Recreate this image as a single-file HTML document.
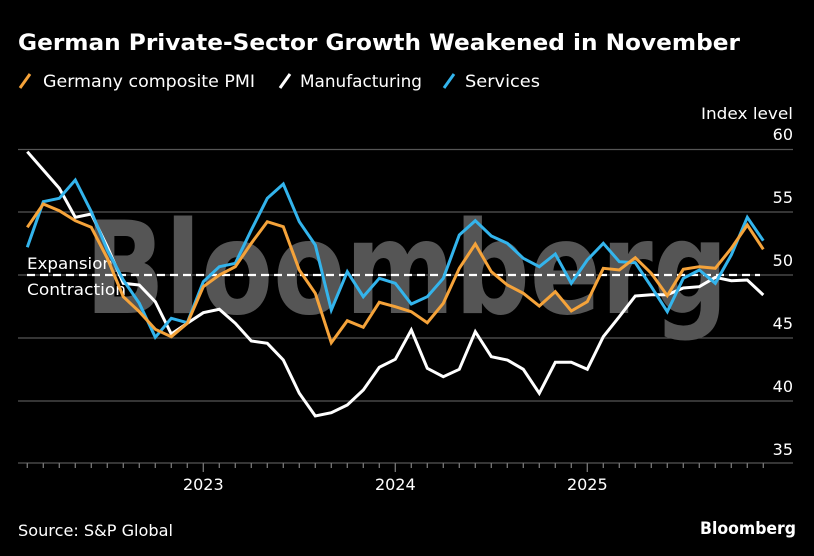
<!DOCTYPE html>
<html><head><meta charset="utf-8"><style>
html,body{margin:0;padding:0;background:#000;}
svg{display:block;font-family:"DejaVu Sans","Liberation Sans",sans-serif;}
</style></head><body>
<svg width="814" height="556" viewBox="0 0 814 556" xmlns="http://www.w3.org/2000/svg">
<rect width="814" height="556" fill="#000"/>
<text x="18" y="50" fill="#fff" font-size="22" font-weight="bold" textLength="722" lengthAdjust="spacingAndGlyphs">German Private-Sector Growth Weakened in November</text>
<g font-size="17" fill="#fff">
<line x1="20" y1="88" x2="30" y2="74" stroke="#f5a33a" stroke-width="3"/>
<text x="43" y="87" textLength="212" lengthAdjust="spacingAndGlyphs">Germany composite PMI</text>
<line x1="280" y1="88" x2="290" y2="74" stroke="#fff" stroke-width="3"/>
<text x="300" y="87" textLength="122" lengthAdjust="spacingAndGlyphs">Manufacturing</text>
<line x1="444" y1="88" x2="454" y2="74" stroke="#33b4ec" stroke-width="3"/>
<text x="465" y="87" textLength="75" lengthAdjust="spacingAndGlyphs">Services</text>
</g>
<text x="793" y="119" fill="#fff" font-size="16" text-anchor="end" textLength="92" lengthAdjust="spacingAndGlyphs">Index level</text>
<g stroke="#555" stroke-width="1.3">
<line x1="18" y1="149.5" x2="793" y2="149.5"/>
<line x1="18" y1="212" x2="793" y2="212"/>
<line x1="18" y1="275" x2="793" y2="275"/>
<line x1="18" y1="338" x2="793" y2="338"/>
<line x1="18" y1="401" x2="793" y2="401"/>
<line x1="18" y1="463" x2="793" y2="463"/>
</g>
<g fill="#fff" font-size="16" text-anchor="end">
<text x="793" y="140">60</text>
<text x="793" y="203">55</text>
<text x="793" y="266">50</text>
<text x="793" y="329">45</text>
<text x="793" y="392">40</text>
<text x="793" y="455">35</text>
</g>
<text x="85" y="313" fill="#555" font-size="128" font-weight="bold" textLength="643" lengthAdjust="spacingAndGlyphs">Bloomberg</text>
<g stroke="#777" stroke-width="1.3" id="ticks"></g>
<g fill="#fff" font-size="16" text-anchor="middle">
<text x="203.3" y="490">2023</text>
<text x="395.3" y="490">2024</text>
<text x="587.3" y="490">2025</text>
</g>
<g fill="#fff" font-size="16">
<text x="27" y="269" textLength="86" lengthAdjust="spacingAndGlyphs">Expansion</text>
<text x="27" y="295" textLength="99" lengthAdjust="spacingAndGlyphs">Contraction</text>
</g>
<line x1="27" y1="275" x2="760" y2="275" stroke="#fff" stroke-width="2.2" stroke-dasharray="8,5"/>
<g fill="none" stroke-width="3" stroke-linejoin="miter" id="series"></g>
<text x="18" y="536" fill="#fff" font-size="16" textLength="155" lengthAdjust="spacingAndGlyphs">Source: S&amp;P Global</text>
<text x="796" y="534" fill="#fff" font-size="17" font-weight="bold" text-anchor="end" textLength="96" lengthAdjust="spacingAndGlyphs">Bloomberg</text>
<script>
var ns="http://www.w3.org/2000/svg";
var t=document.getElementById("ticks");
for(var i=0;i<47;i++){var x=27.3+16*i;var maj=(i==11||i==23||i==35);var l=document.createElementNS(ns,"line");l.setAttribute("x1",x);l.setAttribute("x2",x);l.setAttribute("y1",463);l.setAttribute("y2",maj?472:468);t.appendChild(l);}
var W=[151.7,170,188.3,217.3,214,246.7,283.3,285,301.7,334,323.3,312.7,309.3,323.3,341,343.3,360,393.3,416,412.7,405,390,367.3,359.3,330,368.3,376.7,369.3,331.7,356.7,360,369.3,393.3,362.3,362.3,369.3,336.7,316.7,296,294.7,294.7,288,286.7,277.3,280.7,280,295];
var O=[227.3,204,210.7,220.7,227.3,258.3,296.7,311.7,329.3,336.7,323.3,286.7,275,266.7,243.3,221.7,226.7,270,293.3,342.7,320.7,327.3,302.3,306.7,311.7,322.7,303.3,268.3,244,271.7,285,293.3,306,291.7,311,301.7,268.3,270,257.7,273.3,295.7,269.3,266.7,268.3,248.3,225,249.3];
var B=[247.3,201.7,198.3,180,211.7,250,280,303.3,337.3,318.3,322.7,281.7,266.7,263.3,230,198.3,184,221.7,245,310,271.7,296.7,278.3,283.3,304,296.7,278.3,235,220.7,236,243.3,258.3,266.7,254,283.3,260,243.3,261.7,262.7,286.7,311.7,278.3,270,283.3,255,217.3,240.7];
var s=document.getElementById("series");
[[W,"#fff"],[B,"#33b4ec"],[O,"#f5a33a"]].forEach(function(d){var p=d[0].map(function(y,i){return (27.3+16*i).toFixed(1)+","+y}).join(" ");var e=document.createElementNS(ns,"polyline");e.setAttribute("points",p);e.setAttribute("stroke",d[1]);s.appendChild(e);});
</script>
</svg>
</body></html>
